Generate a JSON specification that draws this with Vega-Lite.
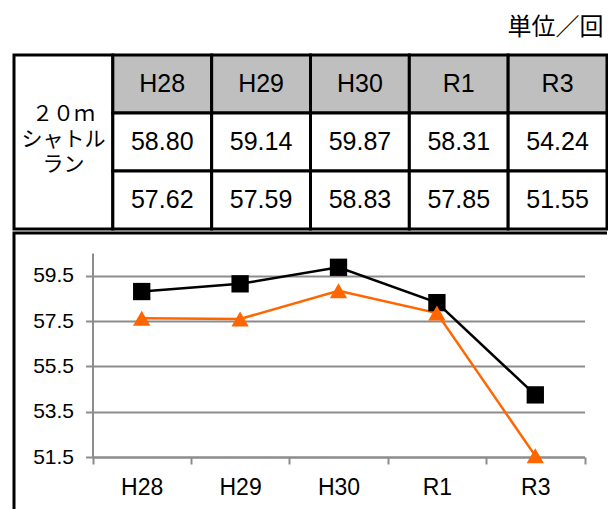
{
  "$schema": "https://vega.github.io/schema/vega-lite/v6.json",
  "padding": {"left": 12, "top": 15, "right": 0, "bottom": 0},
  "background": "white",
  "spacing": 0,
  "config": {"view": {"stroke": null}, "font": "Liberation Sans"},
  "datasets": {
    "scores": [
      {"year": "H28", "series": "1", "value": 58.80},
      {"year": "H29", "series": "1", "value": 59.14},
      {"year": "H30", "series": "1", "value": 59.87},
      {"year": "R1", "series": "1", "value": 58.31},
      {"year": "R3", "series": "1", "value": 54.24},
      {"year": "H28", "series": "2", "value": 57.62},
      {"year": "H29", "series": "2", "value": 57.59},
      {"year": "H30", "series": "2", "value": 58.83},
      {"year": "R1", "series": "2", "value": 57.85},
      {"year": "R3", "series": "2", "value": 51.55}
    ]
  },
  "vconcat": [
    {
      "title": {"text": "単位／回", "anchor": "end", "font": "Noto Sans CJK JP", "fontSize": 24, "fontWeight": "normal", "color": "black", "offset": 14, "dx": -5},
      "width": 593,
      "height": 174,
      "data": {"name": "scores"},
      "encoding": {
        "x": {"field": "year", "type": "nominal", "scale": {"type": "band", "domain": ["種目", "H28", "H29", "H30", "R1", "R3"], "paddingInner": 0, "paddingOuter": 0}, "axis": null}
      },
      "layer": [
        {
          "data": {"values": [{"year": "種目", "name": "２０ｍ\nシャトル\nラン"}]},
          "mark": {"type": "rect", "fill": "white", "stroke": "black", "strokeWidth": 3}
        },
        {
          "data": {"values": [{"year": "種目", "name": "２０ｍ\nシャトル\nラン"}]},
          "mark": {"type": "text", "font": "Noto Sans CJK JP", "fontSize": 21, "lineBreak": "\n", "lineHeight": 25, "dy": -27, "color": "black", "baseline": "middle"},
          "encoding": {"text": {"field": "name"}}
        },
        {
          "transform": [{"filter": "datum.series === '1'"}],
          "mark": {"type": "rect", "fill": "#bfbfbf", "stroke": "black", "strokeWidth": 3},
          "encoding": {"y": {"datum": "年度", "type": "nominal", "scale": {"type": "band", "domain": ["年度", "1", "2"], "paddingInner": 0, "paddingOuter": 0}, "axis": null}}
        },
        {
          "transform": [{"filter": "datum.series === '1'"}],
          "mark": {"type": "text", "fontSize": 25, "color": "black", "baseline": "middle"},
          "encoding": {
            "y": {"datum": "年度", "type": "nominal", "axis": null},
            "text": {"field": "year"}
          }
        },
        {
          "mark": {"type": "rect", "fill": "white", "stroke": "black", "strokeWidth": 3},
          "encoding": {"y": {"field": "series", "type": "nominal", "axis": null}}
        },
        {
          "mark": {"type": "text", "fontSize": 25, "color": "black", "baseline": "middle"},
          "encoding": {
            "y": {"field": "series", "type": "nominal", "axis": null},
            "text": {"field": "value", "type": "quantitative", "format": ".2f"}
          }
        }
      ]
    },
    {
      "width": 593,
      "height": 280,
      "view": {"stroke": "black", "strokeWidth": 3, "strokeDash": [593, 873, 280]},
      "data": {"name": "scores"},
      "encoding": {
        "x": {
          "field": "year", "type": "nominal", "bandPosition": 0.5,
          "scale": {"type": "band", "domain": ["H28", "H29", "H30", "R1", "R3"], "range": [78.5, 570.5], "paddingInner": 0, "paddingOuter": 0},
          "axis": {"orient": "bottom", "offset": -56, "title": null, "grid": false, "domainColor": "#8c8c8c", "domainWidth": 2, "tickColor": "#8c8c8c", "tickWidth": 2, "tickSize": 7, "tickBand": "extent", "labelFontSize": 23, "labelColor": "black", "labelPadding": 12, "labelAngle": 0}
        },
        "y": {
          "field": "value", "type": "quantitative",
          "scale": {"domain": [51.5, 60.5], "range": [224, 20], "nice": false, "zero": false},
          "axis": {"values": [51.5, 53.5, 55.5, 57.5, 59.5], "format": ".1f", "offset": -78.5, "title": null, "domainColor": "#8c8c8c", "domainWidth": 2, "tickColor": "#8c8c8c", "tickWidth": 2, "tickSize": 7, "grid": true, "gridColor": "#8c8c8c", "gridWidth": 2, "labelFontSize": 21, "labelPadding": 12, "labelColor": "black"}
        },
        "color": {"field": "series", "type": "nominal", "scale": {"domain": ["1", "2"], "range": ["#000000", "#FF6600"]}, "legend": null}
      },
      "layer": [
        {"mark": {"type": "line", "strokeWidth": 2.5}},
        {
          "mark": {"type": "point", "filled": true, "opacity": 1, "size": 300},
          "encoding": {"shape": {"field": "series", "type": "nominal", "scale": {"domain": ["1", "2"], "range": ["square", "triangle-up"]}, "legend": null}}
        }
      ]
    }
  ]
}
